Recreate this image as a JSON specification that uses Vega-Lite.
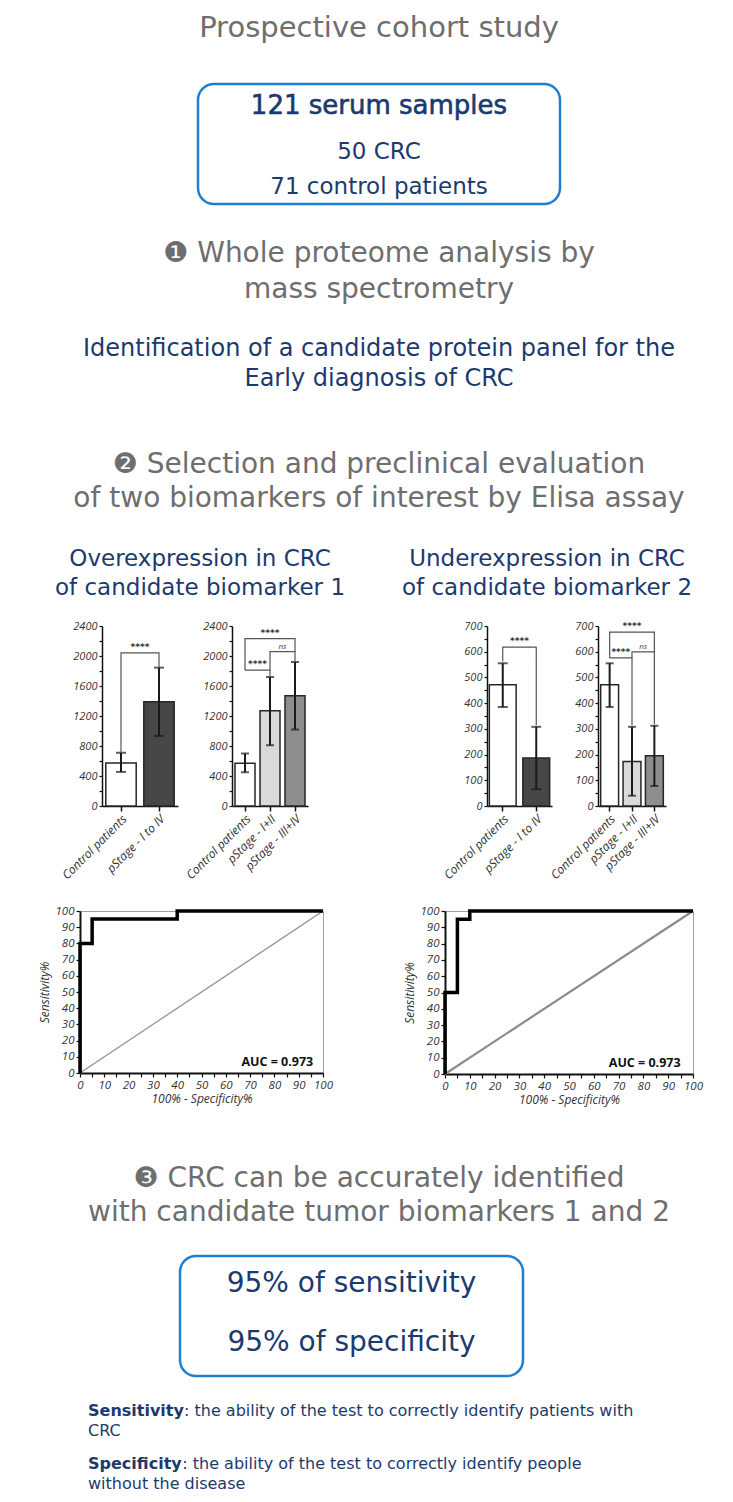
{
"$schema": "https://vega.github.io/schema/vega-lite/v6.json",
"background": "white",
"padding": {"left": 25, "top": 0, "right": 0, "bottom": 0},
"spacing": 0,
"config": {
  "view": {"stroke": null},
  "text": {"font": "DejaVu Sans"},
  "axis": {"labelFont": "Open Sans", "labelFontStyle": "italic", "labelColor": "#333333", "domainColor": "#111111", "tickColor": "#111111", "grid": false, "titleFont": "Open Sans", "titleFontStyle": "italic", "titleFontWeight": "normal", "titleColor": "#333333", "labelOverlap": false},
  "axisX": {"labelOverlap": false},
  "axisY": {"labelOverlap": false},
  "axisQuantitative": {"labelOverlap": false}
},
"vconcat": [
  {"width": 708, "height": 56, "data": {"values": [{"t": "Prospective cohort study"}]}, "mark": {"type": "text", "fontSize": 29, "color": "#6e6e6e", "baseline": "middle"}, "encoding": {"text": {"field": "t", "type": "nominal"}}},
  {"width": 708, "height": 25.75, "data": {"values": [{}]}, "mark": {"type": "text", "text": ""}},
  {"hconcat": [
    {"width": 173, "height": 120, "data": {"values": [{}]}, "mark": {"type": "text", "text": ""}},
    {"width": 362, "height": 120, "view": {"stroke": "#1f7fd2", "strokeWidth": 2.5, "cornerRadius": 16},
     "layer": [
      {"data": {"values": [{"t": "121 serum samples"}]}, "mark": {"type": "text", "fontSize": 26, "color": "#1c3a6e", "stroke": "#1c3a6e", "strokeWidth": 0.6, "baseline": "middle", "dy": -38.5}, "encoding": {"text": {"field": "t", "type": "nominal"}}},
      {"data": {"values": [{"t": "50 CRC\n71 control patients"}]}, "mark": {"type": "text", "fontSize": 23, "color": "#1c3a6e", "baseline": "middle", "lineBreak": "\n", "lineHeight": 34.5, "dy": 8.2}, "encoding": {"text": {"field": "t", "type": "nominal"}}}
     ]}
  ], "spacing": 0, "bounds": "flush"},
  {"width": 708, "height": 125.75, "data": {"values": [{"t": "❶ Whole proteome analysis by\nmass spectrometry"}]}, "mark": {"type": "text", "fontSize": 28, "color": "#6e6e6e", "baseline": "middle", "lineBreak": "\n", "lineHeight": 36, "dy": -15.1}, "encoding": {"text": {"field": "t", "type": "nominal"}}},
  {"width": 708, "height": 70, "data": {"values": [{"t": "Identification of a candidate protein panel for the\nEarly diagnosis of CRC"}]}, "mark": {"type": "text", "fontSize": 24, "color": "#1c3a6e", "baseline": "middle", "lineBreak": "\n", "lineHeight": 30, "dy": -18}, "encoding": {"text": {"field": "t", "type": "nominal"}}},
  {"width": 708, "height": 40, "data": {"values": [{}]}, "mark": {"type": "text", "text": ""}},
  {"width": 708, "height": 80, "data": {"values": [{"t": "❷ Selection and preclinical evaluation\nof two biomarkers of interest by Elisa assay"}]}, "mark": {"type": "text", "fontSize": 28, "color": "#6e6e6e", "baseline": "middle", "lineBreak": "\n", "lineHeight": 34, "dy": -17}, "encoding": {"text": {"field": "t", "type": "nominal"}}},
  {"hconcat": [
    {"width": 350, "height": 98, "data": {"values": [{"t": "Overexpression in CRC\nof candidate biomarker 1"}]}, "mark": {"type": "text", "fontSize": 23, "color": "#1c3a6e", "baseline": "middle", "lineBreak": "\n", "lineHeight": 29, "dy": -12}, "encoding": {"text": {"field": "t", "type": "nominal"}}},
    {"width": 344, "height": 98, "data": {"values": [{"t": "Underexpression in CRC\nof candidate biomarker 2"}]}, "mark": {"type": "text", "fontSize": 23, "color": "#1c3a6e", "baseline": "middle", "lineBreak": "\n", "lineHeight": 29, "dy": -12}, "encoding": {"text": {"field": "t", "type": "nominal"}}}
  ], "spacing": 0, "bounds": "flush"},
  {"hconcat": [
    {"width": 76.7, "height": 180, "data": {"values": [{}]}, "mark": {"type": "text", "text": ""}},
    {"width": 76, "height": 180,
     "layer": [
      {"data": {"values": [
         {"group": "Control patients", "mean": 575, "lo": 455, "hi": 710},
         {"group": "pStage - I to IV", "mean": 1390, "lo": 935, "hi": 1845}]},
       "layer": [
        {"mark": {"type": "bar", "stroke": "#262626", "strokeWidth": 1.5},
         "encoding": {
          "x": {"field": "group", "type": "nominal", "scale": {"domain": ["Control patients", "pStage - I to IV"], "paddingInner": 0.2, "paddingOuter": 0.1}, "axis": {"title": null, "labelAngle": -45, "labelFontSize": 12, "tickSize": 5, "domainWidth": 1.5, "tickWidth": 1.5, "labelPadding": 2, "labelLimit": 200, "labelOverlap": false}},
          "y": {"field": "mean", "type": "quantitative", "scale": {"domain": [0, 2400], "nice": false}, "axis": {"title": null, "values": [0,200,400,600,800,1000,1200,1400,1600,1800,2000,2200,2400], "tickCount": 50, "labelExpr": "datum.value % 400 == 0 ? datum.label : ''", "format": "d", "labelFontSize": 11, "tickSize": 3, "domainWidth": 1.5, "tickWidth": 1.2, "labelPadding": 2, "labelOverlap": false}},
          "color": {"field": "group", "type": "nominal", "scale": {"domain": ["Control patients", "pStage - I to IV", "pStage - I+II", "pStage - III+IV"], "range": ["#ffffff", "#474747", "#d9d9d9", "#8e8e8e"]}, "legend": null}}},
        {"mark": {"type": "rule", "color": "#1a1a1a", "strokeWidth": 2}, "encoding": {"x": {"field": "group", "type": "nominal"}, "y": {"field": "lo", "type": "quantitative"}, "y2": {"field": "hi"}}},
        {"mark": {"type": "tick", "color": "#1a1a1a", "thickness": 2, "size": 10, "orient": "horizontal"}, "encoding": {"x": {"field": "group", "type": "nominal"}, "y": {"field": "lo", "type": "quantitative"}}},
        {"mark": {"type": "tick", "color": "#1a1a1a", "thickness": 2, "size": 10, "orient": "horizontal"}, "encoding": {"x": {"field": "group", "type": "nominal"}, "y": {"field": "hi", "type": "quantitative"}}}
       ]},
      {"data": {"values": [
         {"br": "a", "ord": 1, "group": "Control patients", "val": 720},
         {"br": "a", "ord": 2, "group": "Control patients", "val": 2041},
         {"br": "a", "ord": 3, "group": "pStage - I to IV", "val": 2041},
         {"br": "a", "ord": 4, "group": "pStage - I to IV", "val": 1855}]},
       "mark": {"type": "line", "color": "#555555", "strokeWidth": 1.2},
       "encoding": {"x": {"field": "group", "type": "nominal"}, "y": {"field": "val", "type": "quantitative"}, "detail": {"field": "br"}, "order": {"field": "ord"}}},
      {"data": {"values": [{"group": "Control patients", "val": 2041, "label": "****"}]},
       "mark": {"type": "text", "fontSize": 9, "fontWeight": "bold", "color": "#333333", "baseline": "bottom", "dy": -1},
       "encoding": {"x": {"field": "group", "type": "nominal", "bandPosition": 1.125}, "y": {"field": "val", "type": "quantitative"}, "text": {"field": "label"}}}
     ]},
    {"width": 53.7, "height": 180, "data": {"values": [{}]}, "mark": {"type": "text", "text": ""}},
    {"width": 76, "height": 180,
     "layer": [
      {"data": {"values": [
         {"group": "Control patients", "mean": 570, "lo": 450, "hi": 700},
         {"group": "pStage - I+II", "mean": 1270, "lo": 810, "hi": 1720},
         {"group": "pStage - III+IV", "mean": 1470, "lo": 1020, "hi": 1920}]},
       "layer": [
        {"mark": {"type": "bar", "stroke": "#262626", "strokeWidth": 1.5},
         "encoding": {
          "x": {"field": "group", "type": "nominal", "scale": {"domain": ["Control patients", "pStage - I+II", "pStage - III+IV"], "paddingInner": 0.2, "paddingOuter": 0.12}, "axis": {"title": null, "labelAngle": -45, "labelFontSize": 12, "tickSize": 5, "domainWidth": 1.5, "tickWidth": 1.5, "labelPadding": 2, "labelLimit": 200, "labelOverlap": false}},
          "y": {"field": "mean", "type": "quantitative", "scale": {"domain": [0, 2400], "nice": false}, "axis": {"title": null, "values": [0,200,400,600,800,1000,1200,1400,1600,1800,2000,2200,2400], "tickCount": 50, "labelExpr": "datum.value % 400 == 0 ? datum.label : ''", "format": "d", "labelFontSize": 11, "tickSize": 3, "domainWidth": 1.5, "tickWidth": 1.2, "labelPadding": 2, "labelOverlap": false}},
          "color": {"field": "group", "type": "nominal", "scale": {"domain": ["Control patients", "pStage - I to IV", "pStage - I+II", "pStage - III+IV"], "range": ["#ffffff", "#474747", "#d9d9d9", "#8e8e8e"]}, "legend": null}}},
        {"mark": {"type": "rule", "color": "#1a1a1a", "strokeWidth": 2}, "encoding": {"x": {"field": "group", "type": "nominal"}, "y": {"field": "lo", "type": "quantitative"}, "y2": {"field": "hi"}}},
        {"mark": {"type": "tick", "color": "#1a1a1a", "thickness": 2, "size": 8, "orient": "horizontal"}, "encoding": {"x": {"field": "group", "type": "nominal"}, "y": {"field": "lo", "type": "quantitative"}}},
        {"mark": {"type": "tick", "color": "#1a1a1a", "thickness": 2, "size": 8, "orient": "horizontal"}, "encoding": {"x": {"field": "group", "type": "nominal"}, "y": {"field": "hi", "type": "quantitative"}}}
       ]},
      {"data": {"values": [
         {"br": "a", "ord": 1, "group": "Control patients", "val": 1811},
         {"br": "a", "ord": 2, "group": "Control patients", "val": 2232},
         {"br": "a", "ord": 3, "group": "pStage - III+IV", "val": 2232},
         {"br": "a", "ord": 4, "group": "pStage - III+IV", "val": 2059},
         {"br": "b", "ord": 1, "group": "Control patients", "val": 1811},
         {"br": "b", "ord": 2, "group": "pStage - I+II", "val": 1811},
         {"br": "b", "ord": 3, "group": "pStage - I+II", "val": 1730},
         {"br": "c", "ord": 1, "group": "pStage - I+II", "val": 1811},
         {"br": "c", "ord": 2, "group": "pStage - I+II", "val": 2059},
         {"br": "c", "ord": 3, "group": "pStage - III+IV", "val": 2059},
         {"br": "c", "ord": 4, "group": "pStage - III+IV", "val": 1930}]},
       "mark": {"type": "line", "color": "#555555", "strokeWidth": 1.2},
       "encoding": {"x": {"field": "group", "type": "nominal"}, "y": {"field": "val", "type": "quantitative"}, "detail": {"field": "br"}, "order": {"field": "ord"}}},
      {"data": {"values": [{"group": "Control patients", "val": 1811, "label": "****"}]},
       "mark": {"type": "text", "fontSize": 9, "fontWeight": "bold", "color": "#333333", "baseline": "bottom", "dy": -1},
       "encoding": {"x": {"field": "group", "type": "nominal", "bandPosition": 1.125}, "y": {"field": "val", "type": "quantitative"}, "text": {"field": "label"}}},
      {"data": {"values": [{"group": "pStage - I+II", "val": 2232, "label": "****"}]},
       "mark": {"type": "text", "fontSize": 9, "fontWeight": "bold", "color": "#333333", "baseline": "bottom", "dy": -1},
       "encoding": {"x": {"field": "group", "type": "nominal"}, "y": {"field": "val", "type": "quantitative"}, "text": {"field": "label"}}},
      {"data": {"values": [{"group": "pStage - I+II", "val": 2059, "label": "ns"}]},
       "mark": {"type": "text", "font": "Open Sans", "fontSize": 8, "fontStyle": "italic", "color": "#444444", "baseline": "bottom", "dy": -1},
       "encoding": {"x": {"field": "group", "type": "nominal", "bandPosition": 1.125}, "y": {"field": "val", "type": "quantitative"}, "text": {"field": "label"}}}
     ]},
    {"width": 178.7, "height": 180, "data": {"values": [{}]}, "mark": {"type": "text", "text": ""}},
    {"width": 65, "height": 180,
     "layer": [
      {"data": {"values": [
         {"group": "Control patients", "mean": 472, "lo": 385, "hi": 555},
         {"group": "pStage - I to IV", "mean": 187, "lo": 65, "hi": 308}]},
       "layer": [
        {"mark": {"type": "bar", "stroke": "#262626", "strokeWidth": 1.5},
         "encoding": {
          "x": {"field": "group", "type": "nominal", "scale": {"domain": ["Control patients", "pStage - I to IV"], "paddingInner": 0.2, "paddingOuter": 0.07}, "axis": {"title": null, "labelAngle": -45, "labelFontSize": 12, "tickSize": 5, "domainWidth": 1.5, "tickWidth": 1.5, "labelPadding": 2, "labelLimit": 200, "labelOverlap": false}},
          "y": {"field": "mean", "type": "quantitative", "scale": {"domain": [0, 700], "nice": false}, "axis": {"title": null, "values": [0,50,100,150,200,250,300,350,400,450,500,550,600,650,700], "tickCount": 50, "labelExpr": "datum.value % 100 == 0 ? datum.label : ''", "format": "d", "labelFontSize": 11, "tickSize": 3, "domainWidth": 1.5, "tickWidth": 1.2, "labelPadding": 2, "labelOverlap": false}},
          "color": {"field": "group", "type": "nominal", "scale": {"domain": ["Control patients", "pStage - I to IV", "pStage - I+II", "pStage - III+IV"], "range": ["#ffffff", "#474747", "#d9d9d9", "#8e8e8e"]}, "legend": null}}},
        {"mark": {"type": "rule", "color": "#1a1a1a", "strokeWidth": 2}, "encoding": {"x": {"field": "group", "type": "nominal"}, "y": {"field": "lo", "type": "quantitative"}, "y2": {"field": "hi"}}},
        {"mark": {"type": "tick", "color": "#1a1a1a", "thickness": 2, "size": 10, "orient": "horizontal"}, "encoding": {"x": {"field": "group", "type": "nominal"}, "y": {"field": "lo", "type": "quantitative"}}},
        {"mark": {"type": "tick", "color": "#1a1a1a", "thickness": 2, "size": 10, "orient": "horizontal"}, "encoding": {"x": {"field": "group", "type": "nominal"}, "y": {"field": "hi", "type": "quantitative"}}}
       ]},
      {"data": {"values": [
         {"br": "a", "ord": 1, "group": "Control patients", "val": 562},
         {"br": "a", "ord": 2, "group": "Control patients", "val": 618},
         {"br": "a", "ord": 3, "group": "pStage - I to IV", "val": 618},
         {"br": "a", "ord": 4, "group": "pStage - I to IV", "val": 314}]},
       "mark": {"type": "line", "color": "#555555", "strokeWidth": 1.2},
       "encoding": {"x": {"field": "group", "type": "nominal"}, "y": {"field": "val", "type": "quantitative"}, "detail": {"field": "br"}, "order": {"field": "ord"}}},
      {"data": {"values": [{"group": "Control patients", "val": 618, "label": "****"}]},
       "mark": {"type": "text", "fontSize": 9, "fontWeight": "bold", "color": "#333333", "baseline": "bottom", "dy": -1},
       "encoding": {"x": {"field": "group", "type": "nominal", "bandPosition": 1.125}, "y": {"field": "val", "type": "quantitative"}, "text": {"field": "label"}}}
     ]},
    {"width": 45.6, "height": 180, "data": {"values": [{}]}, "mark": {"type": "text", "text": ""}},
    {"width": 68, "height": 180,
     "layer": [
      {"data": {"values": [
         {"group": "Control patients", "mean": 472, "lo": 385, "hi": 555},
         {"group": "pStage - I+II", "mean": 173, "lo": 40, "hi": 308},
         {"group": "pStage - III+IV", "mean": 195, "lo": 78, "hi": 312}]},
       "layer": [
        {"mark": {"type": "bar", "stroke": "#262626", "strokeWidth": 1.5},
         "encoding": {
          "x": {"field": "group", "type": "nominal", "scale": {"domain": ["Control patients", "pStage - I+II", "pStage - III+IV"], "paddingInner": 0.2, "paddingOuter": 0.12}, "axis": {"title": null, "labelAngle": -45, "labelFontSize": 12, "tickSize": 5, "domainWidth": 1.5, "tickWidth": 1.5, "labelPadding": 2, "labelLimit": 200, "labelOverlap": false}},
          "y": {"field": "mean", "type": "quantitative", "scale": {"domain": [0, 700], "nice": false}, "axis": {"title": null, "values": [0,50,100,150,200,250,300,350,400,450,500,550,600,650,700], "tickCount": 50, "labelExpr": "datum.value % 100 == 0 ? datum.label : ''", "format": "d", "labelFontSize": 11, "tickSize": 3, "domainWidth": 1.5, "tickWidth": 1.2, "labelPadding": 2, "labelOverlap": false}},
          "color": {"field": "group", "type": "nominal", "scale": {"domain": ["Control patients", "pStage - I to IV", "pStage - I+II", "pStage - III+IV"], "range": ["#ffffff", "#474747", "#d9d9d9", "#8e8e8e"]}, "legend": null}}},
        {"mark": {"type": "rule", "color": "#1a1a1a", "strokeWidth": 2}, "encoding": {"x": {"field": "group", "type": "nominal"}, "y": {"field": "lo", "type": "quantitative"}, "y2": {"field": "hi"}}},
        {"mark": {"type": "tick", "color": "#1a1a1a", "thickness": 2, "size": 8, "orient": "horizontal"}, "encoding": {"x": {"field": "group", "type": "nominal"}, "y": {"field": "lo", "type": "quantitative"}}},
        {"mark": {"type": "tick", "color": "#1a1a1a", "thickness": 2, "size": 8, "orient": "horizontal"}, "encoding": {"x": {"field": "group", "type": "nominal"}, "y": {"field": "hi", "type": "quantitative"}}}
       ]},
      {"data": {"values": [
         {"br": "a", "ord": 1, "group": "Control patients", "val": 576},
         {"br": "a", "ord": 2, "group": "Control patients", "val": 676},
         {"br": "a", "ord": 3, "group": "pStage - III+IV", "val": 676},
         {"br": "a", "ord": 4, "group": "pStage - III+IV", "val": 599},
         {"br": "b", "ord": 1, "group": "Control patients", "val": 576},
         {"br": "b", "ord": 2, "group": "pStage - I+II", "val": 576},
         {"br": "b", "ord": 3, "group": "pStage - I+II", "val": 314},
         {"br": "c", "ord": 1, "group": "pStage - I+II", "val": 576},
         {"br": "c", "ord": 2, "group": "pStage - I+II", "val": 599},
         {"br": "c", "ord": 3, "group": "pStage - III+IV", "val": 599},
         {"br": "c", "ord": 4, "group": "pStage - III+IV", "val": 318}]},
       "mark": {"type": "line", "color": "#555555", "strokeWidth": 1.2},
       "encoding": {"x": {"field": "group", "type": "nominal"}, "y": {"field": "val", "type": "quantitative"}, "detail": {"field": "br"}, "order": {"field": "ord"}}},
      {"data": {"values": [{"group": "Control patients", "val": 576, "label": "****"}]},
       "mark": {"type": "text", "fontSize": 9, "fontWeight": "bold", "color": "#333333", "baseline": "bottom", "dy": -1},
       "encoding": {"x": {"field": "group", "type": "nominal", "bandPosition": 1.125}, "y": {"field": "val", "type": "quantitative"}, "text": {"field": "label"}}},
      {"data": {"values": [{"group": "pStage - I+II", "val": 676, "label": "****"}]},
       "mark": {"type": "text", "fontSize": 9, "fontWeight": "bold", "color": "#333333", "baseline": "bottom", "dy": -1},
       "encoding": {"x": {"field": "group", "type": "nominal"}, "y": {"field": "val", "type": "quantitative"}, "text": {"field": "label"}}},
      {"data": {"values": [{"group": "pStage - I+II", "val": 599, "label": "ns"}]},
       "mark": {"type": "text", "font": "Open Sans", "fontSize": 8, "fontStyle": "italic", "color": "#444444", "baseline": "bottom", "dy": -1},
       "encoding": {"x": {"field": "group", "type": "nominal", "bandPosition": 1.125}, "y": {"field": "val", "type": "quantitative"}, "text": {"field": "label"}}}
     ]}
  ], "spacing": 0, "bounds": "flush"},
  {"width": 708, "height": 22, "data": {"values": [{}]}, "mark": {"type": "text", "text": ""}},
  {"hconcat": [
    {"width": 55, "height": 162, "data": {"values": [{}]}, "mark": {"type": "text", "text": ""}},
    {"width": 243, "height": 162, "view": {"stroke": "#a0a0a0", "strokeWidth": 1},
     "layer": [
      {"data": {"values": [{"fpr": 0, "tpr": 0}, {"fpr": 100, "tpr": 100}]},
       "mark": {"type": "line", "color": "#8c8c8c", "strokeWidth": 1.2},
       "encoding": {
        "x": {"field": "fpr", "type": "quantitative", "scale": {"domain": [0, 100], "nice": false}, "axis": {"title": "100% - Specificity%", "values": [0,5,10,15,20,25,30,35,40,45,50,55,60,65,70,75,80,85,90,95,100], "tickCount": 50, "labelExpr": "datum.value % 10 == 0 ? datum.label : ''", "labelFlush": false, "labelFontSize": 11.5, "tickSize": 4, "domainWidth": 2, "tickWidth": 1.2, "titleFontSize": 12, "titlePadding": 3, "labelPadding": 2, "labelOverlap": false}},
        "y": {"field": "tpr", "type": "quantitative", "scale": {"domain": [0, 100], "nice": false}, "axis": {"title": "Sensitivity%", "values": [0,10,20,30,40,50,60,70,80,90,100], "tickCount": 50, "labelFlush": false, "labelFontSize": 11.5, "tickSize": 4, "domainWidth": 2, "tickWidth": 1.2, "titleFontSize": 12, "titlePadding": 3, "labelPadding": 2, "labelOverlap": false}}}},
      {"data": {"values": [{"fpr": 0, "tpr": 0}, {"fpr": 0, "tpr": 80}, {"fpr": 5, "tpr": 95}, {"fpr": 40, "tpr": 100}, {"fpr": 100, "tpr": 100}]},
       "mark": {"type": "line", "interpolate": "step-after", "color": "#000000", "strokeWidth": 3.5},
       "encoding": {"x": {"field": "fpr", "type": "quantitative"}, "y": {"field": "tpr", "type": "quantitative"}}},
      {"data": {"values": [{"label": "AUC = 0.973"}]},
       "mark": {"type": "text", "font": "Open Sans", "fontWeight": "bold", "fontSize": 12.5, "align": "right", "baseline": "middle", "color": "#111111"},
       "encoding": {"x": {"datum": 96, "type": "quantitative"}, "y": {"datum": 7, "type": "quantitative"}, "text": {"field": "label"}}}
     ]},
    {"width": 121.3, "height": 162, "data": {"values": [{}]}, "mark": {"type": "text", "text": ""}},
    {"width": 248, "height": 163, "view": {"stroke": "#a0a0a0", "strokeWidth": 1},
     "layer": [
      {"data": {"values": [{"fpr": 0, "tpr": 0}, {"fpr": 100, "tpr": 100}]},
       "mark": {"type": "line", "color": "#8c8c8c", "strokeWidth": 2.2},
       "encoding": {
        "x": {"field": "fpr", "type": "quantitative", "scale": {"domain": [0, 100], "nice": false}, "axis": {"title": "100% - Specificity%", "values": [0,5,10,15,20,25,30,35,40,45,50,55,60,65,70,75,80,85,90,95,100], "tickCount": 50, "labelExpr": "datum.value % 10 == 0 ? datum.label : ''", "labelFlush": false, "labelFontSize": 11.5, "tickSize": 4, "domainWidth": 2, "tickWidth": 1.2, "titleFontSize": 12, "titlePadding": 3, "labelPadding": 2, "labelOverlap": false}},
        "y": {"field": "tpr", "type": "quantitative", "scale": {"domain": [0, 100], "nice": false}, "axis": {"title": "Sensitivity%", "values": [0,10,20,30,40,50,60,70,80,90,100], "tickCount": 50, "labelFlush": false, "labelFontSize": 11.5, "tickSize": 4, "domainWidth": 2, "tickWidth": 1.2, "titleFontSize": 12, "titlePadding": 3, "labelPadding": 2, "labelOverlap": false}}}},
      {"data": {"values": [{"fpr": 0, "tpr": 0}, {"fpr": 0, "tpr": 50}, {"fpr": 5, "tpr": 95}, {"fpr": 10, "tpr": 100}, {"fpr": 100, "tpr": 100}]},
       "mark": {"type": "line", "interpolate": "step-after", "color": "#000000", "strokeWidth": 3.5},
       "encoding": {"x": {"field": "fpr", "type": "quantitative"}, "y": {"field": "tpr", "type": "quantitative"}}},
      {"data": {"values": [{"label": "AUC = 0.973"}]},
       "mark": {"type": "text", "font": "Open Sans", "fontWeight": "bold", "fontSize": 12.5, "align": "right", "baseline": "middle", "color": "#111111"},
       "encoding": {"x": {"datum": 95, "type": "quantitative"}, "y": {"datum": 7, "type": "quantitative"}, "text": {"field": "label"}}}
     ]}
  ], "spacing": 0, "bounds": "flush"},
  {"width": 708, "height": 45, "data": {"values": [{}]}, "mark": {"type": "text", "text": ""}},
  {"width": 708, "height": 90, "data": {"values": [{"t": "❸ CRC can be accurately identified\nwith candidate tumor biomarkers 1 and 2"}]}, "mark": {"type": "text", "fontSize": 28, "color": "#6e6e6e", "baseline": "middle", "lineBreak": "\n", "lineHeight": 34, "dy": -17}, "encoding": {"text": {"field": "t", "type": "nominal"}}},
  {"width": 708, "height": 12.45, "data": {"values": [{}]}, "mark": {"type": "text", "text": ""}},
  {"hconcat": [
    {"width": 155, "height": 120, "data": {"values": [{}]}, "mark": {"type": "text", "text": ""}},
    {"width": 343, "height": 120, "view": {"stroke": "#1f7fd2", "strokeWidth": 2.5, "cornerRadius": 16},
     "data": {"values": [{"t": "95% of sensitivity\n95% of specificity"}]},
     "mark": {"type": "text", "fontSize": 28, "color": "#1c3a6e", "baseline": "middle", "lineBreak": "\n", "lineHeight": 59, "dy": -31.7},
     "encoding": {"text": {"field": "t", "type": "nominal"}}}
  ], "spacing": 0, "bounds": "flush"},
  {"width": 708, "height": 22.05, "data": {"values": [{}]}, "mark": {"type": "text", "text": ""}},
  {"width": 126, "height": 20,
   "layer": [
    {"data": {"values": [{"t": "Sensitivity"}]}, "mark": {"type": "text", "fontSize": 16, "fontWeight": "bold", "color": "#1c3a6e", "align": "left", "baseline": "middle"}, "encoding": {"text": {"field": "t", "type": "nominal"}}},
    {"data": {"values": [{"t": ": the ability of the test to correctly identify patients with"}]}, "mark": {"type": "text", "fontSize": 16, "color": "#1c3a6e", "align": "left", "baseline": "middle", "dx": 96}, "encoding": {"text": {"field": "t", "type": "nominal"}}}
   ]},
  {"width": 126, "height": 20, "data": {"values": [{"t": "CRC"}]}, "mark": {"type": "text", "fontSize": 16, "color": "#1c3a6e", "align": "left", "baseline": "middle"}, "encoding": {"text": {"field": "t", "type": "nominal"}}},
  {"width": 708, "height": 13, "data": {"values": [{}]}, "mark": {"type": "text", "text": ""}},
  {"width": 126, "height": 20,
   "layer": [
    {"data": {"values": [{"t": "Specificity"}]}, "mark": {"type": "text", "fontSize": 16, "fontWeight": "bold", "color": "#1c3a6e", "align": "left", "baseline": "middle"}, "encoding": {"text": {"field": "t", "type": "nominal"}}},
    {"data": {"values": [{"t": ": the ability of the test to correctly identify people"}]}, "mark": {"type": "text", "fontSize": 16, "color": "#1c3a6e", "align": "left", "baseline": "middle", "dx": 94.3}, "encoding": {"text": {"field": "t", "type": "nominal"}}}
   ]},
  {"width": 126, "height": 20, "data": {"values": [{"t": "without the disease"}]}, "mark": {"type": "text", "fontSize": 16, "color": "#1c3a6e", "align": "left", "baseline": "middle"}, "encoding": {"text": {"field": "t", "type": "nominal"}}}
]
}
